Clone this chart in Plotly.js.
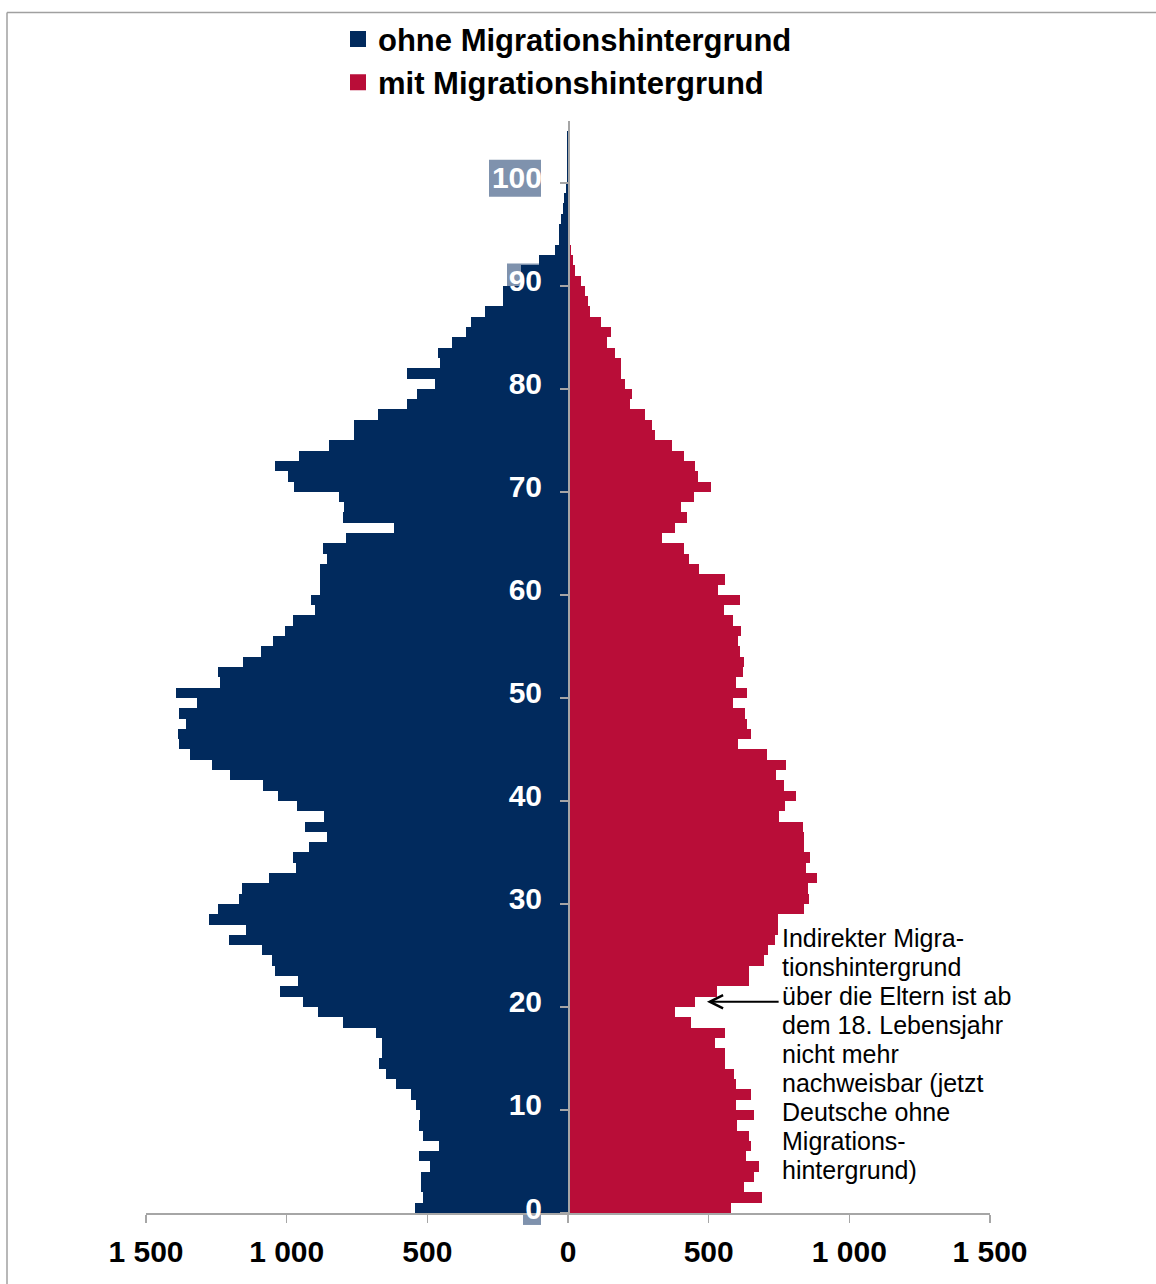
<!DOCTYPE html>
<html><head><meta charset="utf-8">
<script src="https://cdn.plot.ly/plotly-3.0.1.min.js"></script>
<style>html,body{margin:0;padding:0;background:#fff}#chart{width:1156px;height:1284px}</style>
</head><body><div id="chart"></div>
<script>
// ---- data (age in years, persons in thousands) ----
const ages = [0,1,2,3,4,5,6,7,8,9,10,11,12,13,14,15,16,17,18,19,20,21,22,23,24,25,26,27,28,29,
  30,31,32,33,34,35,36,37,38,39,40,41,42,43,44,45,46,47,48,49,50,51,52,53,54,55,56,57,58,59,
  60,61,62,63,64,65,66,67,68,69,70,71,72,73,74,75,76,77,78,79,80,81,82,83,84,85,86,87,88,89,
  90,91,92,93,94,95,96,97,98,99,100,101,102,103,104,105];
const ohneMigration = [543,516,521,521,489,529,459,514,529,526,
  541,559,610,647,672,660,660,682,800,890,
  941,1025,959,1040,1052,1087,1206,1146,1277,1243,
  1169,1159,1063,966,979,919,857,935,868,963,
  1030,1084,1203,1266,1345,1382,1387,1357,1384,1320,
  1392,1236,1245,1156,1090,1047,1007,977,898,913,
  881,881,881,856,871,789,620,801,796,814,
  973,997,1040,955,848,759,759,677,571,538,
  474,571,454,461,412,362,345,295,231,231,
  168,168,102,47,33,33,25,18,13,7,
  4,3,3,2,5,1];
const mitMigration = [580,689,625,660,678,631,651,642,602,660,
  598,651,598,589,557,559,524,557,436,379,
  453,531,642,642,697,712,734,748,748,838,
  855,852,884,847,860,838,840,835,751,771,
  810,768,739,776,706,603,650,637,630,586,
  637,596,622,627,612,606,615,585,556,611,
  534,559,464,430,414,333,380,422,402,447,
  509,461,452,414,369,308,300,275,221,226,
  204,188,188,166,137,154,116,79,72,62,
  45,25,17,12,8,8,5,5,8,2,
  2,1,1,1,1,1];
const seriesNames = ['ohne Migrationshintergrund', 'mit Migrationshintergrund'];
const xTickValues = [-1500, -1000, -500, 0, 500, 1000, 1500];
const xTickLabels = ['1 500', '1 000', '500', '0', '500', '1 000', '1 500'];
const yTickValues = [0, 10, 20, 30, 40, 50, 60, 70, 80, 90, 100];
const noteLines = ['Indirekter Migra-', 'tionshintergrund', 'über die Eltern ist ab',
  'dem 18. Lebensjahr', 'nicht mehr', 'nachweisbar (jetzt', 'Deutsche ohne',
  'Migrations-', 'hintergrund)'];
const arrowAge = 20.5;       // age the note arrow points to
const arrowTipValue = 494;   // value at arrow tip
const arrowTailValue = 754;  // value at arrow tail

// ---- styling ----
const W = 1156, H = 1284;
const M = {l: 146, r: 166, t: 117, b: 71};
const PW = W - M.l - M.r, PH = H - M.t - M.b;
const px2x = px => (px - M.l) / PW;
const py2y = py => (H - M.b - py) / PH;
const FONT = 'Liberation Sans, Arial, Helvetica, sans-serif';
const BLUE = '#012a5d', RED = '#b90d38', GREY = '#a6a6a6', BOX = '#7f92ad';
const COLORS = [BLUE, RED];

const traces = [
  {type: 'bar', orientation: 'h', name: seriesNames[0], y: ages,
   x: ohneMigration.map(v => -v), offset: 0, width: 1, showlegend: false,
   marker: {color: BLUE, line: {width: 0}}, hoverinfo: 'skip'},
  {type: 'bar', orientation: 'h', name: seriesNames[1], y: ages,
   x: mitMigration, offset: 0, width: 1, showlegend: false,
   marker: {color: RED, line: {width: 0}}, hoverinfo: 'skip'}
];
// legend keys (large square swatches like the original)
seriesNames.forEach((n, i) => traces.push({type: 'scatter', mode: 'markers', name: n,
  x: [null], y: [null], showlegend: true, hoverinfo: 'skip',
  marker: {symbol: 'square', size: 16, color: COLORS[i], line: {width: 0}}}));

const boxes = [[489, 541, 156, 193], [507, 540, 260, 290], [523, 541, 1197, 1225]];
const shapes = boxes.map(b => ({type: 'rect', xref: 'paper', yref: 'paper', layer: 'below',
  x0: px2x(b[0]), x1: px2x(b[1]), y0: py2y(b[3]), y1: py2y(b[2]),
  fillcolor: BOX, line: {width: 0}}));
shapes.push({type: 'line', xref: 'paper', yref: 'paper', x0: px2x(7), x1: px2x(1160),
  y0: py2y(8), y1: py2y(8), line: {color: '#a0a0a0', width: 1.5}});
shapes.push({type: 'line', xref: 'paper', yref: 'paper', x0: px2x(7), x1: px2x(7),
  y0: py2y(8), y1: py2y(1300), line: {color: '#a0a0a0', width: 1.5}});

const annotations = noteLines.map((t, i) => ({
  xref: 'paper', yref: 'paper', x: px2x(780), y: py2y(937 + i * 29.1),
  xanchor: 'left', yanchor: 'middle', text: t, showarrow: false,
  font: {family: FONT, size: 25, color: '#000'}
}));
annotations.push({xref: 'x', yref: 'y', x: arrowTipValue, y: arrowAge,
  axref: 'x', ayref: 'y', ax: arrowTailValue, ay: arrowAge, text: '',
  showarrow: true, arrowhead: 5, arrowsize: 1.3, arrowwidth: 2, arrowcolor: '#000',
  standoff: 0, startstandoff: 0});

const layout = {
  width: W, height: H, margin: M,
  paper_bgcolor: '#fff', plot_bgcolor: 'rgba(0,0,0,0)',
  barmode: 'relative', bargap: 0,
  font: {family: FONT},
  showlegend: true,
  legend: {x: px2x(338), y: py2y(8), xanchor: 'left', yanchor: 'top',
    bgcolor: 'rgba(0,0,0,0)', traceorder: 'normal', itemwidth: 30,
    font: {family: FONT, size: 31, color: '#000', weight: 'bold'}},
  xaxis: {range: [-1500, 1500], tickvals: xTickValues, ticktext: xTickLabels,
    ticks: 'outside', ticklen: 8, tickcolor: GREY, tickwidth: 1.5, ticklabelstandoff: 3,
    showline: true, linecolor: GREY, linewidth: 1.5, showgrid: false, zeroline: false,
    tickfont: {family: FONT, size: 30, color: '#000', weight: 'bold'}, fixedrange: true},
  yaxis: {range: [0, 106], tickvals: yTickValues, anchor: 'free', position: 0.5, side: 'left',
    ticks: 'outside', ticklen: 8, tickcolor: GREY, tickwidth: 1.5,
    ticklabelstandoff: 12, ticklabelshift: -5,
    showline: true, linecolor: GREY, linewidth: 1.5, showgrid: false, zeroline: false,
    tickfont: {family: FONT, size: 30, color: '#fff', weight: 'bold'}, fixedrange: true},
  shapes: shapes,
  annotations: annotations
};

Plotly.newPlot('chart', traces, layout, {staticPlot: true, displayModeBar: false});
</script></body></html>
